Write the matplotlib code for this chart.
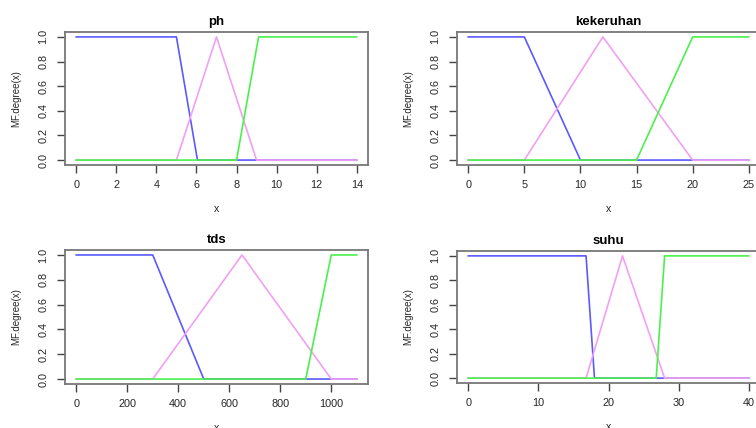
import matplotlib
matplotlib.use("Agg")
import matplotlib.pyplot as plt

plt.rcParams['font.family'] = ['Liberation Sans', 'DejaVu Sans']

# ---- data (corner points of membership functions) ----
titles = ["ph", "kekeruhan", "tds", "suhu"]
x_max = [14, 25, 1100, 40]
x_ticks = [[0, 2, 4, 6, 8, 10, 12, 14],
           [0, 5, 10, 15, 20, 25],
           [0, 200, 400, 600, 800, 1000],
           [0, 10, 20, 30, 40]]
y_ticks = [0.0, 0.2, 0.4, 0.6, 0.8, 1.0]

ph_low_x = [0, 5, 6.05, 14];           ph_low_y = [1, 1, 0, 0]
ph_mid_x = [0, 5, 7, 9, 14];           ph_mid_y = [0, 0, 1, 0, 0]
ph_high_x = [0, 8, 9.1, 14];           ph_high_y = [0, 0, 1, 1]

kek_low_x = [0, 5, 10, 25];            kek_low_y = [1, 1, 0, 0]
kek_mid_x = [0, 5, 12, 20, 25];        kek_mid_y = [0, 0, 1, 0, 0]
kek_high_x = [0, 15, 20, 25];          kek_high_y = [0, 0, 1, 1]

tds_low_x = [0, 300, 500, 1100];       tds_low_y = [1, 1, 0, 0]
tds_mid_x = [0, 300, 650, 1000, 1100]; tds_mid_y = [0, 0, 1, 0, 0]
tds_high_x = [0, 900, 1000, 1100];     tds_high_y = [0, 0, 1, 1]

suhu_low_x = [0, 16.8, 18, 40];        suhu_low_y = [1, 1, 0, 0]
suhu_mid_x = [0, 16.8, 22, 28, 40];    suhu_mid_y = [0, 0, 1, 0, 0]
suhu_high_x = [0, 26.8, 28, 40];       suhu_high_y = [0, 0, 1, 1]

series = [
    [(ph_low_x, ph_low_y), (ph_mid_x, ph_mid_y), (ph_high_x, ph_high_y)],
    [(kek_low_x, kek_low_y), (kek_mid_x, kek_mid_y), (kek_high_x, kek_high_y)],
    [(tds_low_x, tds_low_y), (tds_mid_x, tds_mid_y), (tds_high_x, tds_high_y)],
    [(suhu_low_x, suhu_low_y), (suhu_mid_x, suhu_mid_y), (suhu_high_x, suhu_high_y)],
]
colors = ["#5a5aff", "#f2a0f2", "#4cf04c"]

W, H = 756, 428
fig = plt.figure(figsize=(W / 100, H / 100), dpi=100)

# axes boxes in pixels: (left, top, width, height)
boxes = [(65, 32, 303, 133), (457, 32, 303, 133),
         (65, 250, 303, 134), (457, 251, 303, 132)]

for i, (l, t, w, h) in enumerate(boxes):
    ax = fig.add_axes([l / W, 1 - (t + h) / H, w / W, h / H])
    for (xs, ys), c in zip(series[i], colors):
        ax.plot(xs, ys, color=c, lw=1.2, solid_joinstyle='round')
    pad = 0.04 * x_max[i]
    ax.set_xlim(-pad, x_max[i] + pad)
    ax.set_ylim(-0.04, 1.04)
    ax.set_xticks(x_ticks[i])
    ax.set_xticklabels([str(v) for v in x_ticks[i]])
    ax.set_yticks(y_ticks)
    ax.set_yticklabels(["%.1f" % v for v in y_ticks], rotation=90, va='center')
    ax.tick_params(axis='both', direction='out', length=6, width=1.0,
                   color='#444444', labelsize=7.8, labelcolor='#262626')
    ax.tick_params(axis='x', pad=5)
    ax.tick_params(axis='y', pad=6)
    for s in ax.spines.values():
        s.set_color('#777777')
        s.set_linewidth(1.3)
    ax.set_title(titles[i], fontsize=9.5, fontweight='bold', pad=5)
    ax.set_xlabel("x", fontsize=7.6, color='#262626', labelpad=10)
    ax.set_ylabel("MF.degree(x)", fontsize=7, color='#262626', labelpad=12)

fig.savefig("out.png", dpi=100)
